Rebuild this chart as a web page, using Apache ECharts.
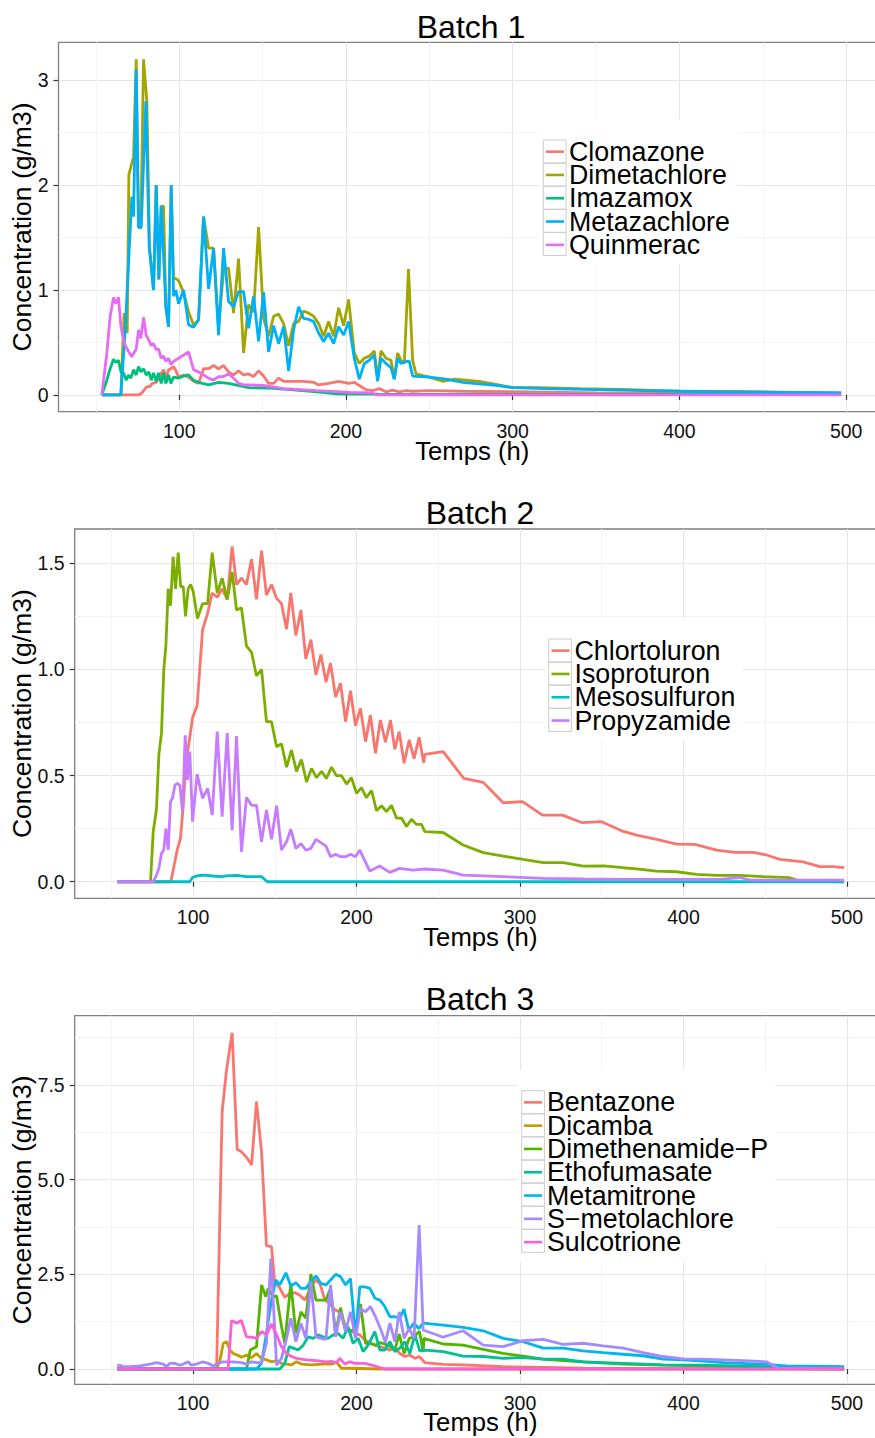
<!DOCTYPE html>
<html>
<head>
<meta charset="utf-8">
<script src="https://cdn.jsdelivr.net/npm/echarts@6/dist/echarts.min.js"></script>
<style>
html,body{margin:0;padding:0;background:#fff;}
#c{width:875px;height:1438px;}
</style>
</head>
<body>
<div id="c"></div>
<script>
// ---------- DATA (time h, concentration g/m3) ----------
const batch1Names = ['Clomazone','Dimetachlore','Imazamox','Metazachlore','Quinmerac'];
const clomazone = [[53.6,0],[76,0],[77.6,0.02],[80.6,0.08],[82.5,0.08],[83.8,0.11],[86.2,0.12],[88.6,0.19],[90.6,0.24],[92.2,0.17],[93.6,0.24],[95,0.25],[96.6,0.27],[98,0.23],[99.6,0.17],[102.6,0.19],[105.6,0.17],[108.6,0.13],[111.6,0.11],[114.6,0.25],[117.6,0.25],[120.6,0.28],[123.6,0.25],[126.6,0.28],[129.6,0.22],[132.6,0.19],[135.6,0.23],[138.6,0.19],[141.6,0.2],[144.6,0.175],[147.6,0.23],[150.6,0.18],[153.6,0.11],[156.6,0.11],[159.6,0.16],[162.6,0.13],[168.6,0.13],[174.6,0.13],[180.6,0.12],[183.6,0.095],[189.6,0.11],[195.6,0.13],[201.6,0.11],[205,0.12],[209,0.08],[212,0.05],[216,0.04],[220,0.06],[224,0.03],[228,0.045],[232,0.03],[236,0.04],[240,0.035],[250,0.04],[270,0.035],[300,0.03],[350,0.02],[400,0.015],[450,0.012],[497,0.01]];
const dimetachlore = [[53.6,0],[65,0],[67,0.78],[68.8,0.59],[69.8,2.1],[72.6,2.27],[74.2,3.2],[75.6,1.6],[77,1.59],[78.6,3.2],[80.6,2.8],[82.2,1.41],[84.6,1.0],[86.2,2.0],[87.8,1.10],[89.2,1.80],[90.6,1.8],[92,0.84],[93.6,0.65],[95.2,2.0],[96.6,1.11],[98,1.11],[99.6,1.09],[102.6,0.98],[105.6,0.79],[108.6,0.67],[111.6,0.715],[114.6,1.70],[117.6,1.40],[120.6,1.40],[123.6,0.65],[126.6,1.19],[129.6,1.21],[132.6,0.78],[135.6,1.30],[138.6,0.40],[141.6,0.86],[144.6,0.79],[147.6,1.60],[150.6,0.73],[153.6,0.56],[156.6,0.75],[159.6,0.77],[162.6,0.68],[165.6,0.47],[168.6,0.68],[171.6,0.70],[174.6,0.80],[177.6,0.78],[180.6,0.75],[183.6,0.68],[186.6,0.56],[189.6,0.70],[192.6,0.56],[195.6,0.83],[198.6,0.66],[201.6,0.91],[205,0.4],[208,0.3],[211,0.35],[214,0.37],[217,0.42],[219,0.15],[221,0.42],[224,0.35],[227,0.33],[229,0.15],[231,0.4],[233,0.33],[235,0.3],[237.5,1.2],[240,0.33],[242,0.2],[250,0.17],[258,0.13],[265,0.15],[280,0.13],[290,0.1],[300,0.07],[315,0.07],[340,0.06],[370,0.05],[400,0.035],[440,0.03],[470,0.025],[497,0.02]];
const imazamox = [[53.6,0],[56.6,0.14],[58.6,0.25],[60.6,0.34],[62,0.31],[63.6,0.33],[65,0.22],[66.6,0.21],[68.2,0.14],[69.6,0.19],[71,0.16],[72.6,0.24],[74.2,0.19],[75.6,0.27],[77,0.22],[78.6,0.25],[80.2,0.19],[81.8,0.22],[83.2,0.14],[84.6,0.21],[86.2,0.13],[87.6,0.21],[89.2,0.11],[90.6,0.21],[92,0.11],[93.6,0.19],[95,0.11],[96.6,0.17],[99.6,0.16],[102.6,0.18],[105.6,0.19],[108.6,0.14],[111.6,0.12],[117.6,0.095],[123.6,0.12],[129.6,0.11],[141.6,0.07],[154.6,0.064],[166.6,0.05],[182.6,0.03],[194.6,0.01],[220,0.008],[300,0.006],[400,0.005],[497,0.005]];
const metazachlore = [[53.6,0],[65,0],[67.6,0.62],[71.6,1.89],[72.6,1.70],[74.2,3.10],[75.6,1.60],[77.2,1.60],[80,2.80],[82,1.41],[84.6,1.0],[86.2,2.0],[87.8,1.10],[89.2,1.80],[92,0.84],[93.6,0.65],[95.2,2.0],[96.6,0.94],[98,1.0],[99.6,0.87],[102.6,1.0],[105.6,0.67],[108.6,0.645],[111.6,0.715],[114.6,1.70],[117.6,1.01],[120.6,1.40],[123.6,0.57],[126.6,1.40],[129.6,0.89],[132.6,0.84],[135.6,0.985],[138.6,0.985],[141.6,0.635],[144.6,0.94],[147.6,0.51],[150.6,0.98],[153.6,0.41],[156.6,0.66],[159.6,0.49],[162.6,0.65],[165.6,0.23],[168.6,0.62],[171.6,0.84],[174.6,0.73],[177.6,0.72],[180.6,0.70],[183.6,0.59],[186.6,0.51],[189.6,0.59],[192.6,0.49],[195.6,0.65],[198.6,0.57],[201.6,0.70],[205,0.35],[208,0.15],[211,0.3],[214,0.33],[217,0.38],[219,0.13],[221,0.35],[224,0.3],[227,0.26],[229,0.15],[231,0.35],[233,0.3],[236,0.32],[238,0.32],[240,0.18],[250,0.17],[260,0.15],[270,0.12],[290,0.09],[300,0.07],[320,0.06],[350,0.05],[380,0.04],[420,0.03],[460,0.025],[497,0.02]];
const quinmerac = [[53.6,0],[56.6,0.4],[58.6,0.75],[60.6,0.93],[62,0.87],[63.6,0.93],[65,0.66],[67,0.49],[69,0.43],[71.4,0.365],[74.2,0.435],[75.6,0.62],[77,0.54],[78.6,0.74],[80.2,0.57],[81.8,0.52],[83.2,0.47],[84.6,0.49],[86.2,0.43],[87.6,0.44],[89.2,0.35],[90.6,0.37],[92,0.32],[93.6,0.35],[95,0.29],[96.6,0.32],[99.6,0.35],[102.6,0.38],[105.6,0.41],[108.6,0.24],[111.6,0.22],[114.6,0.19],[117.6,0.16],[120.6,0.14],[123.6,0.175],[126.6,0.175],[129.6,0.2],[132.6,0.16],[135.6,0.11],[138.6,0.095],[142.6,0.095],[150.6,0.09],[162.6,0.06],[172.6,0.05],[182.6,0.04],[202.6,0.025],[216,0.02],[218,0],[497,0]];

const batch2Names = ['Chlortoluron','Isoproturon','Mesosulfuron','Propyzamide'];
const chlortoluron = [[53.6,0],[86.4,0],[88.9,0.094],[90.3,0.15],[92.3,0.204],[94,0.357],[95.6,0.56],[97.6,0.66],[99.7,0.773],[102.5,0.83],[105.8,1.186],[108.9,1.264],[111.7,1.36],[114.8,1.34],[117.8,1.38],[120.9,1.33],[123.9,1.58],[126.6,1.40],[129.6,1.43],[132.7,1.40],[135.8,1.52],[138.8,1.33],[141.9,1.56],[144.9,1.35],[148,1.40],[151.1,1.335],[154.1,1.31],[157.2,1.19],[159.8,1.36],[162.9,1.16],[166,1.28],[169,1.05],[172.1,1.14],[175.2,0.974],[178.2,1.07],[181.3,0.94],[184.1,1.03],[187.2,0.87],[190.2,0.935],[193.3,0.754],[196.3,0.90],[199.4,0.735],[202.4,0.817],[205.5,0.66],[208.5,0.785],[211.6,0.605],[214.6,0.762],[217.7,0.657],[220.8,0.762],[223.4,0.624],[226.1,0.707],[229.1,0.558],[232.2,0.668],[235.2,0.58],[238.3,0.68],[241.1,0.56],[241.8,0.6],[253,0.613],[265.6,0.487],[277.5,0.468],[289.7,0.372],[301.5,0.377],[313.8,0.314],[326,0.314],[338,0.278],[350,0.283],[362.1,0.24],[371.3,0.22],[383.5,0.2],[395.8,0.177],[407,0.176],[420.2,0.149],[431.4,0.138],[442.6,0.138],[450.8,0.126],[459,0.105],[473.2,0.094],[483.4,0.071],[491.5,0.071],[498.3,0.066]];
const isoproturon = [[53.6,0],[74,0],[75.6,0.235],[77.6,0.34],[79.1,0.60],[80.7,0.70],[82.1,1.0],[83.4,1.115],[84.8,1.38],[86.2,1.30],[87.8,1.53],[89.3,1.38],[90.9,1.55],[92.4,1.39],[94,1.39],[95.4,1.25],[97,1.38],[98.5,1.40],[100,1.37],[102.7,1.24],[105.8,1.31],[108.9,1.31],[111.7,1.55],[114.8,1.36],[117.8,1.43],[120.9,1.33],[123.9,1.46],[126.6,1.28],[129.6,1.29],[132.7,1.11],[135.8,1.08],[138.8,0.97],[141.9,1.0],[144.9,0.754],[148,0.754],[151.1,0.636],[154.1,0.65],[157.2,0.54],[160.2,0.62],[163.3,0.52],[166.3,0.576],[169.4,0.47],[172.5,0.534],[175.5,0.49],[178.6,0.52],[181.6,0.487],[184.7,0.54],[187.7,0.50],[190.8,0.50],[193.9,0.46],[196.9,0.49],[200,0.416],[203,0.443],[206,0.396],[209.2,0.43],[212.2,0.335],[215.3,0.358],[218.3,0.33],[221.4,0.36],[224.4,0.30],[227.5,0.30],[230.6,0.26],[233.6,0.294],[236.7,0.27],[239.7,0.27],[241.8,0.236],[253,0.232],[265.2,0.173],[277.5,0.137],[289.7,0.121],[301.9,0.105],[314.2,0.09],[326.4,0.09],[338.6,0.074],[350.9,0.075],[363.1,0.066],[371.3,0.061],[383.5,0.05],[395.8,0.047],[408,0.035],[420.2,0.03],[434.5,0.03],[448.7,0.024],[465,0.019],[471.2,0.003],[498.3,0]];
const mesosulfuron = [[53.6,0],[98,0],[99.7,0.02],[102.1,0.027],[106.2,0.031],[112.3,0.027],[117.4,0.024],[120.5,0.028],[126.6,0.03],[132.7,0.024],[141.9,0.024],[145.4,0],[498.3,0]];
const propyzamide = [[53.6,0],[75.6,0],[77.6,0.03],[79.1,0.063],[80.7,0.134],[82.1,0.15],[83.4,0.25],[84.8,0.15],[86.2,0.377],[87.4,0.393],[88.9,0.455],[90.3,0.463],[91.9,0.455],[93.6,0.33],[95.2,0.69],[96.6,0.48],[98,0.613],[99.7,0.283],[102.5,0.507],[105.8,0.393],[108.9,0.44],[111.7,0.314],[114.8,0.707],[117.8,0.306],[120.9,0.70],[123.9,0.243],[126.6,0.686],[129.6,0.141],[132.7,0.397],[135.8,0.36],[138.8,0.36],[141.9,0.188],[144.9,0.338],[148,0.20],[151.1,0.358],[154.1,0.149],[157.2,0.188],[159.8,0.247],[162.9,0.157],[166,0.18],[169,0.149],[172.1,0.157],[175.2,0.20],[178.2,0.184],[181.3,0.168],[184.1,0.118],[187.2,0.13],[190.2,0.118],[193.3,0.118],[196.3,0.13],[199.4,0.118],[202,0.149],[208.1,0.05],[214.2,0.074],[220.3,0.044],[226.4,0.063],[234.6,0.055],[241.8,0.06],[253,0.055],[265.3,0.031],[289.7,0.024],[314.2,0.016],[338.6,0.013],[363.1,0.011],[422.3,0.011],[434.5,0.02],[440.6,0.008],[498.3,0.008]];

const batch3Names = ['Bentazone','Dicamba','Dimethenamide\u2212P','Ethofumasate','Metamitrone','S\u2212metolachlore','Sulcotrione'];
const bentazone = [[53.6,0],[114.4,0],[117.8,6.8],[120.5,7.9],[123.9,8.88],[127,5.8],[129.6,5.74],[132.7,5.59],[135.8,5.39],[138.8,7.06],[141.9,5.74],[144.9,3.26],[148,3.23],[150,2.26],[152.7,2.17],[156.1,1.89],[159.2,2.0],[162.2,2.02],[165.3,1.95],[168.4,1.82],[171.4,2.09],[174.5,2.35],[177.6,2.26],[180.6,1.82],[183.7,1.73],[186.7,1.56],[189.8,1.51],[192.9,1.14],[195.9,1.03],[199,0.94],[202,0.90],[205.1,0.77],[208.2,0.68],[211.2,0.63],[214.3,0.59],[217.3,0.55],[220.4,0.50],[223.5,0.55],[226.5,0.41],[229.6,0.33],[232.6,0.37],[235.7,0.28],[238.3,0.33],[241.8,0.17],[253,0.12],[265.3,0.11],[289.7,0.06],[314.2,0.044],[338.6,0.02],[400,0.01],[498.3,0.005]];
const dicamba = [[53.6,0],[114.4,0],[116.5,0.24],[118.5,0.68],[120.5,0.72],[122.6,0.5],[124.6,0.41],[127,0.37],[129.6,0.31],[132.7,0.37],[135.8,0.3],[138.8,0.41],[141.9,0.28],[144.9,0.24],[148,0.19],[151.1,0.22],[154.1,0.15],[160.2,0.11],[163.3,0.19],[166.3,0.13],[172.5,0.11],[178.6,0.13],[184.7,0.13],[187.7,0.18],[190.8,0.02],[195.9,0.02],[214.3,0],[498.3,0]];
const dimethenamideP = [[53.6,0],[132.7,0],[135,0.5],[138.8,0.59],[141.9,2.22],[144.5,1.91],[146,2.13],[148.9,1.91],[151.1,1.93],[154.1,1.12],[156.1,0.68],[159.8,2.26],[162.9,0.94],[166,1.51],[169,1.34],[172.1,2.51],[175.2,1.82],[178.2,1.82],[181.3,1.82],[184.1,2.13],[187.2,0.94],[190.2,1.62],[193.3,1.03],[196.3,0.99],[199.4,1.07],[202.4,1.72],[205.5,0.68],[208.5,0.68],[211.6,0.63],[214.6,0.70],[217.7,0.65],[220.8,0.59],[223.4,0.5],[226.1,0.92],[229.1,0.41],[232.2,0.81],[235.2,0.85],[238.5,1.0],[240.8,0.45],[241.2,0.81],[253,0.66],[265.2,0.63],[277.5,0.52],[289.7,0.41],[301.9,0.34],[314.2,0.26],[326.4,0.22],[338.6,0.19],[363.1,0.13],[387.6,0.1],[412,0.08],[450.8,0.045],[457,0.02],[498.3,0.01]];
const ethofumasate = [[53.6,0],[153.1,0],[156.1,0.15],[158.8,0.59],[161.3,0.55],[164.3,0.5],[167.4,0.63],[170.4,0.85],[173.5,0.81],[176.5,0.90],[179.6,0.85],[182.6,0.81],[185.7,0.90],[188.7,0.94],[191.8,0.81],[194.8,1.12],[197.9,0.68],[201,0.81],[204,0.46],[207.1,0.63],[211.2,0.99],[214.3,0.50],[217.3,0.50],[220.4,0.72],[223.5,0.46],[226.5,0.55],[229.6,0.72],[232.6,0.41],[235.7,0.9],[238.7,0.48],[241.8,0.5],[253,0.46],[265.2,0.34],[277.5,0.33],[289.7,0.28],[301.9,0.3],[314.2,0.26],[326.4,0.26],[338.6,0.19],[363.1,0.15],[387.6,0.11],[412,0.1],[450.8,0.06],[498.3,0.0]];
const metamitrone = [[53.6,0],[138.8,0],[141.9,0.15],[144.9,0.94],[148,1.82],[150.6,2.35],[153.1,2.22],[156.8,2.54],[159.8,2.19],[162.9,2.28],[166,2.13],[169,2.13],[172.1,2.31],[175.2,2.46],[178.2,2.26],[181.3,2.22],[184.1,2.35],[187.2,2.50],[190.2,2.44],[193.3,2.22],[196.3,2.39],[199.4,0.84],[202,2.17],[205.1,2.17],[208.2,2.13],[211.2,1.87],[214.3,1.82],[217.3,1.65],[220.4,1.38],[223.5,1.38],[226.5,1.34],[229,1.58],[232,1.03],[235.1,1.21],[238.1,1.07],[240.8,1.21],[253,1.16],[265.2,1.1],[277.5,1.01],[289.7,0.81],[301.9,0.72],[314.2,0.55],[326.4,0.55],[338.6,0.48],[350.9,0.43],[363.1,0.39],[375.3,0.35],[387.6,0.26],[399.8,0.24],[412,0.21],[424.3,0.17],[450.8,0.12],[463,0.08],[498.3,0.06]];
const sMetolachlore = [[53.6,0.08],[55.2,0.1],[57.6,0.06],[61.6,0.06],[67.5,0.08],[73.6,0.13],[77.6,0.17],[81.7,0.13],[83.8,0.06],[85.8,0.15],[88.9,0.15],[91.9,0.1],[94,0.13],[97,0.19],[99,0.1],[102,0.13],[105.8,0.19],[109.3,0.15],[112.3,0.08],[115.3,0.15],[118,0.19],[121.5,0.19],[124.6,0.19],[129.6,0.17],[132.7,0.13],[135.8,0.19],[138.8,0.17],[141.9,0.17],[144.9,0.68],[147.6,2.92],[149,1.82],[151.1,0.1],[154.1,0.28],[157.2,0.81],[159.8,1.34],[162.9,0.72],[166,1.21],[169,0.81],[172.1,2.31],[175.2,0.85],[178.2,0.81],[181.3,0.78],[184.1,2.22],[187.2,0.85],[190.2,1.51],[193.3,0.99],[196.3,1.51],[199.4,0.81],[202.4,1.6],[205.5,1.51],[208.5,1.65],[211.6,1.38],[214.6,1.07],[217.7,0.70],[220.4,1.21],[223.5,0.72],[226.1,1.51],[229.1,0.81],[232.2,1.07],[235.2,0.81],[238.3,3.80],[240.8,1.03],[253,0.84],[265.2,1.01],[277.5,0.63],[289.7,0.59],[301.9,0.75],[314.2,0.78],[326.4,0.65],[338.6,0.68],[350.9,0.61],[363.1,0.55],[375.3,0.43],[387.6,0.33],[399.8,0.27],[412,0.26],[424.3,0.24],[436.5,0.22],[450.8,0.19],[457.9,0.02],[498.3,0.01]];
const sulcotrione = [[53.6,0],[121.5,0],[123.5,1.28],[126.6,1.21],[129.6,1.28],[132.7,0.85],[135.8,0.84],[138.8,0.81],[141.9,0.99],[144.9,0.9],[148,1.19],[151.1,0.9],[154.1,0.59],[157.2,0.41],[160.2,0.33],[163.3,0.28],[169.4,0.24],[175.5,0.22],[181.6,0.19],[184.7,0.2],[187.7,0.17],[189.8,0.28],[192.9,0.13],[195.9,0.19],[199,0.15],[205.1,0.15],[211.2,0.08],[217.3,0],[498.3,0]];

const batch1Series = [clomazone, dimetachlore, imazamox, metazachlore, quinmerac];
const batch2Series = [chlortoluron, isoproturon, mesosulfuron, propyzamide];
const batch3Series = [bentazone, dicamba, dimethenamideP, ethofumasate, metamitrone, sMetolachlore, sulcotrione];

const titles = ['Batch 1','Batch 2','Batch 3'];
const xTicks = [100,200,300,400,500];
const yTicks1 = [0,1,2,3];
const yTicks2 = [0,0.5,1.0,1.5];
const yTicks3 = [0,2.5,5.0,7.5];
const xName = 'Temps (h)';
const yName = 'Concentration (g/m3)';

// ---------- STYLE / LAYOUT ----------
const FONT = '"Liberation Sans", Arial, Helvetica, sans-serif';
const panels = [
  {names: batch1Names, series: batch1Series, yTicks: yTicks1, dec: 0, step: 1,
   colors: ['#F8766D','#A3A500','#00BF7D','#00B0F6','#E76BF3'],
   left: 58.5, top: 42.3, height: 369.4, ymin: -0.16, ymax: 3.362, titleX: 471, titleTop: 11.2, xGap: 26,
   lg: {left: 540, top: 119.3, boxLeft: 543.3}},
  {names: batch2Names, series: batch2Series, yTicks: yTicks2, dec: 1, step: 0.5,
   colors: ['#F8766D','#7CAE00','#00BFC4','#C77CFF'],
   left: 74.7, top: 529, height: 369.3, ymin: -0.078, ymax: 1.6616, titleX: 480, titleTop: 496.9, xGap: 26,
   lg: {left: 545.5, top: 618.3, boxLeft: 548.7}},
  {names: batch3Names, series: batch3Series, yTicks: yTicks3, dec: 1, step: 2.5,
   colors: ['#F8766D','#C49A00','#53B400','#00C094','#00B6EB','#A58AFF','#FB61D7'],
   left: 74.7, top: 1015.7, height: 368.6, ymin: -0.404, ymax: 9.33, titleX: 480, titleTop: 982.9, xGap: 24.5,
   lg: {left: 518, top: 1070, boxLeft: 521.7}}
];
const ROW = 23.1, PADTOP = 20.7, LFONT = 26.8;
const XMIN = 27.6, XMAX = 523.9, PANEL_RIGHT = 886;
const yTitleCenter = 22.5, yTitleSize = 26.5;

const option = {
  animation: false,
  backgroundColor: '#fff',
  title: [], grid: [], xAxis: [], yAxis: [], legend: [], series: [], graphic: []
};

panels.forEach((p, i) => {
  option.title.push({
    text: titles[i], left: p.titleX, top: p.titleTop, textAlign: 'center', padding: 0,
    textStyle: {fontFamily: FONT, fontSize: 32, fontWeight: 'normal', color: '#000'}
  });
  option.grid.push({
    left: p.left, top: p.top, height: p.height, width: PANEL_RIGHT - p.left,
    outerBoundsMode: 'none', containLabel: false,
    show: true, borderColor: '#7f7f7f', borderWidth: 1.3, backgroundColor: 'transparent'
  });
  option.xAxis.push({
    type: 'value', gridIndex: i, min: XMIN, max: XMAX,
    minInterval: 100, maxInterval: 100, splitNumber: 5,
    axisLine: {show: false},
    axisTick: {show: true, length: 5, customValues: xTicks, lineStyle: {color: '#333', width: 1.2}},
    axisLabel: {customValues: xTicks, margin: 9, fontFamily: FONT, fontSize: 19.5, color: '#111',
                formatter: v => String(Math.round(v))},
    splitLine: {show: true, lineStyle: {color: '#e5e5e5', width: 1.1}},
    minorTick: {show: false, splitNumber: 2},
    minorSplitLine: {show: true, lineStyle: {color: '#f4f4f4', width: 1}},
    name: xName, nameLocation: 'middle', nameGap: p.xGap, nameMoveOverlap: false,
    nameTextStyle: {fontFamily: FONT, fontSize: 25.7, color: '#000'}
  });
  option.yAxis.push({
    type: 'value', gridIndex: i, min: p.ymin, max: p.ymax,
    minInterval: p.step, maxInterval: p.step,
    axisLine: {show: false},
    axisTick: {show: true, length: 5, customValues: p.yTicks, lineStyle: {color: '#333', width: 1.2}},
    axisLabel: {customValues: p.yTicks, margin: 10, fontFamily: FONT, fontSize: 19.5, color: '#111',
                formatter: v => Number(v).toFixed(p.dec)},
    splitLine: {show: true, lineStyle: {color: '#e5e5e5', width: 1.1}},
    minorTick: {show: false, splitNumber: 2},
    minorSplitLine: {show: true, lineStyle: {color: '#f4f4f4', width: 1}},
    name: yName, nameLocation: 'middle', nameRotate: 90, nameMoveOverlap: false,
    nameGap: p.left - yTitleCenter - yTitleSize / 2,
    nameTextStyle: {fontFamily: FONT, fontSize: yTitleSize, color: '#000'}
  });
  option.legend.push({
    data: p.names, orient: 'vertical', left: p.lg.left, top: p.lg.top,
    padding: [PADTOP - (LFONT - ROW) / 2, 7, 6, 6], backgroundColor: '#fff',
    itemGap: ROW - LFONT, itemWidth: 18, itemHeight: 2.6, icon: 'rect', selectedMode: false,
    textStyle: {fontFamily: FONT, fontSize: LFONT, color: '#000'}
  });
  p.names.forEach((n, k) => {
    option.series.push({
      type: 'line', name: n, xAxisIndex: i, yAxisIndex: i, data: p.series[k],
      showSymbol: false, symbol: 'none', clip: true,
      color: p.colors[k], itemStyle: {color: p.colors[k]},
      lineStyle: {color: p.colors[k], width: 2.8}, emphasis: {disabled: true}
    });
    option.graphic.push({
      type: 'rect', z: 100, silent: true,
      shape: {x: p.lg.boxLeft, y: p.lg.top + PADTOP + k * ROW, width: 22.7, height: ROW},
      style: {fill: 'none', stroke: '#cccccc', lineWidth: 1}
    });
  });
});

const chart = echarts.init(document.getElementById('c'), null, {renderer: 'svg'});
chart.setOption(option);
</script>
</body>
</html>
